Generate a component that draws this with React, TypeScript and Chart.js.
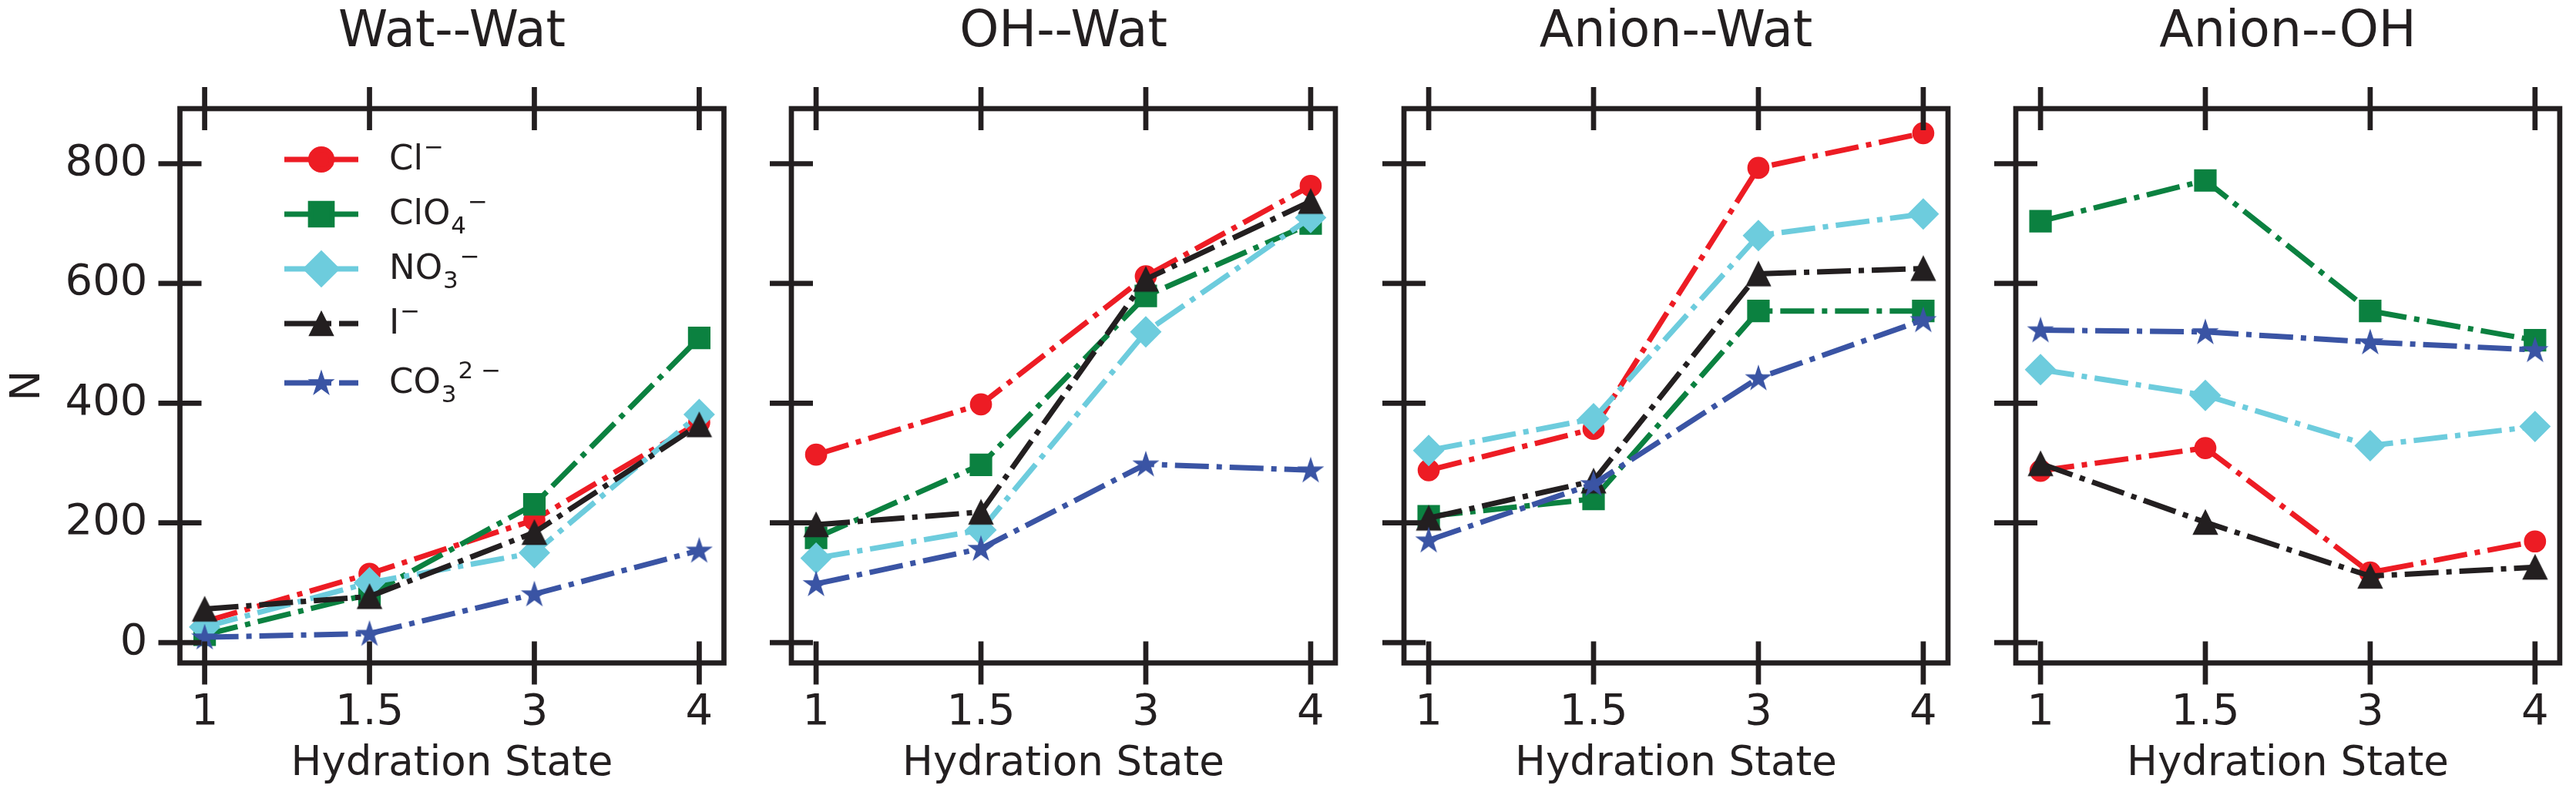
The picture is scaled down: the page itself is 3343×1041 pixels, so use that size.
import { useEffect, useRef } from 'react';
import { Chart, registerables } from 'chart.js';
import { drawPoint } from 'chart.js/helpers';

Chart.register(...registerables);

const FONT = 'DejaVu Sans';
const INK = '#231F20';
Chart.defaults.font.family = FONT;
Chart.defaults.color = INK;

// categories and ticks
const hydrationStates = ['1', '1.5', '3', '4'];
const yTickValues = [0, 200, 400, 600, 800];
const Y_MIN = -34;
const Y_MAX = 892;
const X_MARGIN = 0.15;

// series: Cl-, ClO4-, NO3-, I-, CO3 2-
const seriesColors = ['#ED1C24', '#0B8140', '#6DCCDD', '#231F20', '#3A54A4'];
const seriesMarkers = ['circle', 'rect', 'rectRot', 'triangle', 'star'];

// Wat--Wat
const watWatCl = [35, 115, 205, 368];
const watWatClO4 = [13, 81, 231, 509];
const watWatNO3 = [26, 100, 150, 381];
const watWatI = [56, 77, 184, 364];
const watWatCO3 = [9, 15, 81, 154];

// OH--Wat
const ohWatCl = [314, 398, 612, 763];
const ohWatClO4 = [175, 297, 579, 700];
const ohWatNO3 = [141, 188, 519, 710];
const ohWatI = [197, 218, 607, 737];
const ohWatCO3 = [98, 157, 298, 288];

// Anion--Wat
const anionWatCl = [288, 357, 793, 851];
const anionWatClO4 = [211, 240, 554, 554];
const anionWatNO3 = [321, 374, 680, 716];
const anionWatI = [208, 270, 616, 625];
const anionWatCO3 = [171, 265, 442, 539];

// Anion--OH
const anionOhCl = [287, 325, 117, 169];
const anionOhClO4 = [704, 772, 554, 505];
const anionOhNO3 = [456, 413, 329, 361];
const anionOhI = [299, 201, 111, 126];
const anionOhCO3 = [522, 519, 502, 489];

// legend text as [text, shift] pieces: 0 normal, -1 subscript, 1 superscript
const legendLabels: [string, number][][] = [
    [['Cl', 0], ['\u2212', 1]],
    [['ClO', 0], ['4', -1], ['\u2212', 1]],
    [['NO', 0], ['3', -1], ['\u2212', 1]],
    [['I', 0], ['\u2212', 1]],
    [['CO', 0], ['3', -1], ['2 \u2212', 1]],
];
const legendDash = [[], [], [], [44, 10, 7, 10], [44, 10, 7, 10]];

const panels = [
    { title: 'Wat--Wat', series: [watWatCl, watWatClO4, watWatNO3, watWatI, watWatCO3] },
    { title: 'OH--Wat', series: [ohWatCl, ohWatClO4, ohWatNO3, ohWatI, ohWatCO3] },
    { title: 'Anion--Wat', series: [anionWatCl, anionWatClO4, anionWatNO3, anionWatI, anionWatCO3] },
    { title: 'Anion--OH', series: [anionOhCl, anionOhClO4, anionOhNO3, anionOhI, anionOhCO3] },
];

const HEIGHT = 1041;
const panelBoxes = [
    { left: 0, width: 980, axis: 233.5, padRight: 40.5 },
    { left: 980, width: 795, axis: 47, padRight: 42 },
    { left: 1775, width: 795, axis: 47, padRight: 42 },
    { left: 2570, width: 773, axis: 46, padRight: 21 },
];

function markerImage(kind: string, color: string): any {
    if (kind !== 'triangle' && kind !== 'star') return kind;
    const c = document.createElement('canvas');
    c.width = 36;
    c.height = 36;
    const g = c.getContext('2d')!;
    g.fillStyle = color;
    g.strokeStyle = color;
    g.lineWidth = 1.5;
    g.lineJoin = 'miter';
    g.beginPath();
    if (kind === 'triangle') {
        g.moveTo(18, 2.5);
        g.lineTo(2.5, 33.5);
        g.lineTo(33.5, 33.5);
    } else {
        const R = 16;
        const r = R * 0.382;
        for (let k = 0; k < 10; k++) {
            const rad = k % 2 === 0 ? R : r;
            const ang = -Math.PI / 2 + (k * Math.PI) / 5;
            const px = 18 + rad * Math.cos(ang);
            const py = 19 + rad * Math.sin(ang);
            if (k === 0) g.moveTo(px, py);
            else g.lineTo(px, py);
        }
    }
    g.closePath();
    g.fill();
    g.stroke();
    return c;
}

const markerRadius: Record<string, number> = { circle: 13.6, rect: 19.6, rectRot: 19.4, triangle: 15, star: 15 };

const framePlugin = {
    id: 'frame',
    afterDatasetsDraw(chart: any) {
        const { ctx, chartArea: a, scales } = chart;
        ctx.save();
        ctx.strokeStyle = INK;
        ctx.lineWidth = 6.7;
        ctx.setLineDash([]);
        ctx.lineCap = 'butt';
        ctx.strokeRect(a.left, a.top, a.right - a.left, a.bottom - a.top);
        ctx.beginPath();
        hydrationStates.forEach((_, i) => {
            const px = scales.x.getPixelForValue(i);
            ctx.moveTo(px, a.top - 28);
            ctx.lineTo(px, a.top + 28);
            ctx.moveTo(px, a.bottom - 28);
            ctx.lineTo(px, a.bottom + 28);
        });
        yTickValues.forEach((v) => {
            const py = scales.y.getPixelForValue(v);
            ctx.moveTo(a.left - 28, py);
            ctx.lineTo(a.left + 28, py);
        });
        ctx.stroke();
        ctx.restore();
    },
};

const legendRows = [66, 137, 208, 279, 356];

const legendPlugin = {
    id: 'anionLegend',
    afterDraw(chart: any) {
        const { ctx, chartArea: a } = chart;
        const x0 = a.left + 135.5;
        const handle = 96;
        const textX = a.left + 271.5;
        ctx.save();
        chart.data.datasets.forEach((ds: any, i: number) => {
            const y = a.top + legendRows[i];
            ctx.strokeStyle = ds.borderColor;
            ctx.fillStyle = ds.borderColor;
            ctx.lineWidth = 7;
            ctx.lineCap = 'butt';
            ctx.setLineDash(legendDash[i]);
            ctx.beginPath();
            ctx.moveTo(x0, y);
            ctx.lineTo(x0 + handle, y);
            ctx.stroke();
            ctx.setLineDash([]);
            drawPoint(ctx, { pointStyle: ds.pointStyle, radius: ds.pointRadius, rotation: 0, borderWidth: 1.5 }, x0 + handle / 2, y);

            // label with sub/superscripts
            ctx.fillStyle = INK;
            ctx.textBaseline = 'alphabetic';
            ctx.textAlign = 'left';
            let tx = textX;
            const base = y + 13;
            legendLabels[i].forEach(([t, shift]) => {
                const size = shift === 0 ? 45 : 31;
                ctx.font = `${size}px "${FONT}"`;
                const dy = shift === -1 ? 12 : shift === 1 ? -19 : 0;
                ctx.fillText(t, tx, base + dy);
                tx += ctx.measureText(t).width + (shift === 0 ? 1 : 2);
            });
        });
        ctx.restore();
    },
};

function Panel({ index }: { index: number }) {
    const canvasRef = useRef<HTMLCanvasElement>(null);
    const panel = panels[index];
    const box = panelBoxes[index];
    const first = index === 0;

    useEffect(() => {
        if (!canvasRef.current) return;

        const datasets = panel.series.map((vals, i) => ({
            label: legendLabels[i].map((p) => p[0]).join(''),
            data: hydrationStates.map((_, k) => ({ x: k, y: vals[k] })),
            borderColor: seriesColors[i],
            backgroundColor: seriesColors[i],
            borderWidth: 7,
            borderDash: [44, 10, 7, 10],
            borderCapStyle: 'butt',
            pointStyle: markerImage(seriesMarkers[i], seriesColors[i]),
            pointRadius: markerRadius[seriesMarkers[i]],
            pointBorderWidth: 1.5,
            pointBackgroundColor: seriesColors[i],
            pointBorderColor: seriesColors[i],
            tension: 0,
            fill: false,
            order: seriesColors.length - i,
        }));

        const chart = new Chart(canvasRef.current, {
            type: 'line',
            data: { datasets: datasets as any },
            options: {
                responsive: false,
                animation: false,
                events: [],
                layout: { padding: { left: 0, right: box.padRight, top: 0, bottom: 0 } },
                plugins: {
                    legend: { display: false },
                    tooltip: { enabled: false },
                    title: {
                        display: true,
                        text: panel.title,
                        fullSize: false,
                        color: INK,
                        font: { size: 65, weight: 'normal', lineHeight: 1.2 },
                        padding: { top: 4, bottom: 59 },
                    },
                },
                scales: {
                    x: {
                        type: 'linear',
                        min: -X_MARGIN,
                        max: hydrationStates.length - 1 + X_MARGIN,
                        afterBuildTicks: (s: any) => {
                            s.ticks = hydrationStates.map((_, i) => ({ value: i }));
                        },
                        afterFit: (s: any) => {
                            s.height = 180.5;
                        },
                        grid: { display: false, drawTicks: false },
                        border: { display: false },
                        ticks: {
                            padding: 31,
                            autoSkip: false,
                            maxRotation: 0,
                            color: INK,
                            font: { size: 56 },
                            callback: (v: any) => hydrationStates[v] ?? '',
                        },
                        title: {
                            display: true,
                            text: 'Hydration State',
                            color: INK,
                            font: { size: 53 },
                            padding: { top: 0, bottom: 17 },
                        },
                    },
                    y: {
                        type: 'linear',
                        min: Y_MIN,
                        max: Y_MAX,
                        afterBuildTicks: (s: any) => {
                            s.ticks = yTickValues.map((value) => ({ value }));
                        },
                        afterFit: (s: any) => {
                            s.width = box.axis;
                        },
                        grid: { display: false, drawTicks: false },
                        border: { display: false },
                        ticks: {
                            display: first,
                            padding: 42,
                            autoSkip: false,
                            color: INK,
                            font: { size: 56 },
                            callback: (v: any) => String(v),
                        },
                        title: {
                            display: first,
                            text: 'N',
                            color: INK,
                            font: { size: 53 },
                            padding: { top: 5, bottom: 0 },
                        },
                    },
                },
            } as any,
            plugins: first ? [framePlugin, legendPlugin] : [framePlugin],
        });

        return () => {
            chart.destroy();
        };
    }, []);

    return (
        <canvas
            ref={canvasRef}
            width={box.width}
            height={HEIGHT}
            style={{ position: 'absolute', left: box.left, top: 0, width: box.width, height: HEIGHT }}
        />
    );
}

export default function App() {
    useEffect(() => {
        document.body.style.margin = '0';
        document.body.style.overflow = 'hidden';
    }, []);

    return (
        <div style={{ position: 'absolute', left: 0, top: 0, width: 3343, height: HEIGHT, background: '#fff' }}>
            {panels.map((_, i) => (
                <Panel key={i} index={i} />
            ))}
        </div>
    );
}
